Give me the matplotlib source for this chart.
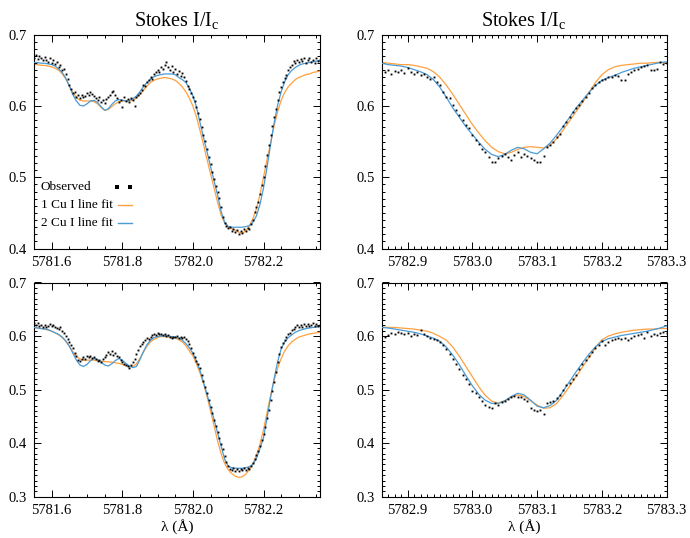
import numpy as np
import matplotlib
matplotlib.use("Agg")
import matplotlib.pyplot as plt
from matplotlib.ticker import MultipleLocator, FormatStrFormatter

plt.rcParams['font.family'] = ['Liberation Serif', 'DejaVu Serif']
plt.rcParams['mathtext.fontset'] = 'custom'
plt.rcParams['mathtext.rm'] = 'Liberation Serif'
plt.rcParams['mathtext.it'] = 'Liberation Serif:italic'

# ---------------- data ----------------
titles = ["Stokes I/I$_{\\rm c}$", "Stokes I/I$_{\\rm c}$"]
xlabel = "\u03bb (\u00c5)"
legend_labels = ["Observed", "1 Cu I line fit", "2 Cu I line fit"]

left_xlim = (5781.55, 5782.36)
right_xlim = (5782.86, 5783.30)
left_xticks = [5781.6, 5781.8, 5782.0, 5782.2]
right_xticks = [5782.9, 5783.0, 5783.1, 5783.2, 5783.3]

obs_step = 0.005
fit_step = 0.01
left_obs_start = 5781.55
left_fit_start = 5781.55
right_obs_start = 5782.865
right_fit_start = 5782.86

# top-left observed
tl_obs = [0.668, 0.672, 0.666, 0.670, 0.667, 0.664, 0.669, 0.665, 0.662, 0.667,
          0.661, 0.664, 0.659, 0.662, 0.655, 0.657, 0.650, 0.652, 0.645, 0.638,
          0.630, 0.624, 0.618, 0.620, 0.613, 0.615, 0.611, 0.616, 0.612, 0.614,
          0.618, 0.616, 0.619, 0.617, 0.614, 0.611, 0.608, 0.612, 0.606, 0.609,
          0.604, 0.610, 0.613, 0.616, 0.619, 0.621, 0.615, 0.611, 0.605, 0.609,
          0.598, 0.612, 0.607, 0.610, 0.606, 0.611, 0.608, 0.600, 0.612, 0.616,
          0.618, 0.623, 0.630, 0.628, 0.634, 0.637, 0.640, 0.638, 0.645, 0.648,
          0.651, 0.647, 0.655, 0.652, 0.658, 0.662, 0.654, 0.650, 0.656, 0.648,
          0.652, 0.645, 0.649, 0.642, 0.646, 0.640, 0.635, 0.628, 0.624, 0.618,
          0.612, 0.607, 0.598, 0.590, 0.582, 0.571, 0.560, 0.551, 0.540, 0.528,
          0.518, 0.508, 0.497, 0.488, 0.480, 0.471, 0.458, 0.444, 0.436, 0.432,
          0.429, 0.430, 0.425, 0.428, 0.423, 0.426, 0.421, 0.424, 0.422, 0.427,
          0.424, 0.429, 0.428, 0.434, 0.440, 0.452, 0.459, 0.466, 0.476, 0.489,
          0.500, 0.516, 0.531, 0.546, 0.560, 0.572, 0.585, 0.596, 0.608, 0.619,
          0.627, 0.633, 0.639, 0.644, 0.650, 0.654, 0.657, 0.663, 0.660, 0.665,
          0.662, 0.666, 0.663, 0.667, 0.660, 0.664, 0.668, 0.662, 0.665, 0.661,
          0.667, 0.663, 0.664]
tl_fit1 = [0.658, 0.658, 0.657, 0.657, 0.656, 0.655, 0.653, 0.650, 0.645, 0.638,
           0.628, 0.619, 0.612, 0.608, 0.607, 0.607, 0.607, 0.606, 0.603, 0.598,
           0.594, 0.595, 0.599, 0.603, 0.606, 0.607, 0.607, 0.607, 0.608, 0.611,
           0.616, 0.622, 0.628, 0.633, 0.636, 0.638, 0.639, 0.640, 0.639, 0.638,
           0.636, 0.632, 0.627, 0.620, 0.611, 0.600, 0.585, 0.566, 0.546, 0.525,
           0.505, 0.485, 0.465, 0.447, 0.436, 0.430, 0.428, 0.426, 0.423, 0.4215,
           0.425, 0.432, 0.442, 0.456, 0.476, 0.500, 0.525, 0.548, 0.572, 0.592,
           0.608, 0.619, 0.627, 0.632, 0.637, 0.640, 0.642, 0.644, 0.645, 0.647,
           0.648, 0.649]
tl_fit2 = [0.661, 0.661, 0.660, 0.660, 0.659, 0.658, 0.656, 0.652, 0.647, 0.639,
           0.628, 0.616, 0.607, 0.601, 0.600, 0.603, 0.607, 0.608, 0.605, 0.599,
           0.594, 0.596, 0.602, 0.607, 0.609, 0.608, 0.607, 0.608, 0.610, 0.614,
           0.620, 0.627, 0.633, 0.638, 0.641, 0.643, 0.644, 0.645, 0.645, 0.645,
           0.644, 0.640, 0.637, 0.633, 0.625, 0.614, 0.599, 0.577, 0.556, 0.536,
           0.515, 0.495, 0.475, 0.452, 0.437, 0.431, 0.430, 0.430, 0.430, 0.430,
           0.431, 0.432, 0.437, 0.446, 0.462, 0.485, 0.514, 0.546, 0.576, 0.601,
           0.620, 0.634, 0.644, 0.650, 0.654, 0.657, 0.659, 0.660, 0.661, 0.662,
           0.663, 0.664]

# bottom-left observed
bl_obs = [0.624, 0.621, 0.625, 0.619, 0.621, 0.617, 0.620, 0.616, 0.619, 0.622,
          0.618, 0.621, 0.617, 0.615, 0.613, 0.616, 0.610, 0.605, 0.600, 0.595,
          0.589, 0.583, 0.577, 0.569, 0.562, 0.556, 0.553, 0.557, 0.560, 0.558,
          0.562, 0.560, 0.563, 0.559, 0.561, 0.557, 0.554, 0.556, 0.552, 0.558,
          0.560, 0.565, 0.570, 0.567, 0.572, 0.565, 0.568, 0.562, 0.560, 0.556,
          0.551, 0.548, 0.546, 0.544, 0.541, 0.545, 0.551, 0.558, 0.566, 0.574,
          0.581, 0.586, 0.589, 0.593, 0.596, 0.594, 0.598, 0.601, 0.604, 0.602,
          0.605, 0.603, 0.604, 0.601, 0.603, 0.600, 0.602, 0.599, 0.597, 0.598,
          0.598, 0.600, 0.597, 0.599, 0.596, 0.598, 0.594, 0.591, 0.586, 0.578,
          0.568, 0.561, 0.553, 0.548, 0.541, 0.528, 0.516, 0.505, 0.494, 0.481,
          0.468, 0.456, 0.443, 0.431, 0.420, 0.410, 0.399, 0.388, 0.375, 0.365,
          0.357, 0.352, 0.349, 0.353, 0.348, 0.351, 0.347, 0.352, 0.349, 0.353,
          0.350, 0.354, 0.352, 0.357, 0.362, 0.370, 0.378, 0.386, 0.395, 0.405,
          0.417, 0.430, 0.446, 0.462, 0.480, 0.498, 0.515, 0.533, 0.551, 0.566,
          0.579, 0.587, 0.593, 0.598, 0.603, 0.606, 0.611, 0.614, 0.617, 0.620,
          0.616, 0.620, 0.617, 0.622, 0.619, 0.623, 0.618, 0.621, 0.624, 0.619,
          0.622, 0.618, 0.620]
bl_fit1 = [0.616, 0.615, 0.614, 0.613, 0.611, 0.609, 0.606, 0.602, 0.597, 0.590,
           0.581, 0.571, 0.562, 0.557, 0.555, 0.555, 0.555, 0.555, 0.554, 0.553,
           0.552, 0.552, 0.551, 0.550, 0.549, 0.547, 0.545, 0.543, 0.543, 0.548,
           0.558, 0.570, 0.581, 0.589, 0.594, 0.597, 0.599, 0.599, 0.598, 0.597,
           0.596, 0.593, 0.589, 0.582, 0.572, 0.563, 0.548, 0.531, 0.511, 0.487,
           0.460, 0.432, 0.404, 0.380, 0.362, 0.350, 0.343, 0.338, 0.336, 0.337,
           0.342, 0.351, 0.362, 0.377, 0.398, 0.425, 0.457, 0.489, 0.517, 0.540,
           0.558, 0.572, 0.582, 0.589, 0.594, 0.598, 0.600, 0.602, 0.604, 0.605,
           0.606, 0.607]
bl_fit2 = [0.616, 0.615, 0.614, 0.613, 0.612, 0.609, 0.606, 0.603, 0.598, 0.591,
           0.581, 0.568, 0.555, 0.546, 0.543, 0.547, 0.554, 0.558, 0.556, 0.551,
           0.546, 0.544, 0.548, 0.554, 0.558, 0.555, 0.549, 0.544, 0.541, 0.543,
           0.556, 0.571, 0.584, 0.592, 0.597, 0.599, 0.600, 0.600, 0.600, 0.599,
           0.598, 0.596, 0.592, 0.586, 0.578, 0.568, 0.553, 0.536, 0.514, 0.491,
           0.468, 0.444, 0.419, 0.394, 0.370, 0.357, 0.354, 0.353, 0.353, 0.353,
           0.354, 0.356, 0.360, 0.371, 0.390, 0.410, 0.447, 0.485, 0.520, 0.552,
           0.576, 0.589, 0.597, 0.602, 0.607, 0.610, 0.612, 0.614, 0.615, 0.616,
           0.617, 0.618]

# top-right observed
tr_obs = [0.648, 0.651, 0.645, 0.649, 0.647, 0.650, 0.646, 0.653, 0.648, 0.645,
          0.647, 0.643, 0.645, 0.641, 0.638, 0.640, 0.634, 0.629, 0.620, 0.613,
          0.611, 0.602, 0.594, 0.588, 0.580, 0.574, 0.569, 0.560, 0.553, 0.547,
          0.540, 0.535, 0.529, 0.522, 0.521, 0.527, 0.530, 0.533, 0.528, 0.524,
          0.531, 0.536, 0.529, 0.533, 0.530, 0.527, 0.524, 0.522, 0.521, 0.530,
          0.543, 0.545, 0.550, 0.556, 0.561, 0.572, 0.578, 0.585, 0.591, 0.597,
          0.601, 0.607, 0.612, 0.618, 0.625, 0.630, 0.634, 0.637, 0.638, 0.640,
          0.641, 0.643, 0.642, 0.637, 0.637, 0.645, 0.648, 0.650, 0.652, 0.654,
          0.656, 0.657, 0.651, 0.650, 0.652, 0.662, 0.659, 0.661]
tr_fit1 = [0.661, 0.660, 0.659, 0.658, 0.658, 0.657, 0.655, 0.653, 0.648, 0.640,
           0.629, 0.616, 0.602, 0.588, 0.574, 0.562, 0.551, 0.542, 0.536, 0.533,
           0.535, 0.539, 0.542, 0.543, 0.542, 0.541, 0.545, 0.554, 0.566, 0.579,
           0.592, 0.605, 0.619, 0.633, 0.644, 0.651, 0.655, 0.657, 0.658, 0.659,
           0.660, 0.660, 0.661, 0.661, 0.661]
tr_fit2 = [0.660, 0.658, 0.657, 0.656, 0.654, 0.651, 0.648, 0.644, 0.637, 0.626,
           0.612, 0.597, 0.584, 0.571, 0.560, 0.549, 0.539, 0.532, 0.529, 0.532,
           0.538, 0.542, 0.540, 0.535, 0.533, 0.540, 0.548, 0.559, 0.571, 0.584,
           0.597, 0.608, 0.619, 0.629, 0.636, 0.640, 0.643, 0.647, 0.650, 0.653,
           0.655, 0.657, 0.659, 0.661, 0.662]

# bottom-right observed
br_obs = [0.599, 0.602, 0.606, 0.604, 0.607, 0.605, 0.603, 0.605, 0.600, 0.603,
          0.601, 0.611, 0.604, 0.600, 0.597, 0.595, 0.592, 0.588, 0.583, 0.575,
          0.566, 0.557, 0.547, 0.538, 0.528, 0.520, 0.510, 0.498, 0.493, 0.486,
          0.479, 0.471, 0.467, 0.466, 0.474, 0.471, 0.476, 0.479, 0.482, 0.486,
          0.488, 0.487, 0.486, 0.483, 0.479, 0.465, 0.462, 0.460, 0.461, 0.455,
          0.474, 0.476, 0.478, 0.484, 0.490, 0.499, 0.508, 0.513, 0.520, 0.527,
          0.538, 0.548, 0.555, 0.563, 0.571, 0.578, 0.584, 0.590, 0.584, 0.589,
          0.592, 0.594, 0.596, 0.594, 0.596, 0.593, 0.597, 0.600, 0.602, 0.604,
          0.596, 0.607, 0.600, 0.604, 0.602, 0.605, 0.608, 0.606]
br_fit1 = [0.617, 0.616, 0.616, 0.615, 0.614, 0.613, 0.611, 0.609, 0.605, 0.599,
           0.592, 0.579, 0.562, 0.543, 0.524, 0.505, 0.489, 0.478, 0.475, 0.479,
           0.486, 0.490, 0.487, 0.479, 0.471, 0.465, 0.466, 0.474, 0.489, 0.506,
           0.524, 0.542, 0.560, 0.578, 0.593, 0.600, 0.604, 0.607, 0.609, 0.611,
           0.612, 0.613, 0.613, 0.614, 0.614]
br_fit2 = [0.616, 0.615, 0.613, 0.611, 0.609, 0.607, 0.604, 0.600, 0.596, 0.590,
           0.579, 0.564, 0.546, 0.526, 0.507, 0.491, 0.480, 0.474, 0.474, 0.479,
           0.487, 0.493, 0.490, 0.480, 0.469, 0.466, 0.470, 0.480, 0.497, 0.515,
           0.533, 0.550, 0.566, 0.580, 0.590, 0.595, 0.598, 0.601, 0.603, 0.605,
           0.607, 0.609, 0.612, 0.615, 0.619]

# ---------------- style ----------------
c_obs = 'black'
c_fit1 = '#FFA040'
c_fit2 = '#4A9BD6'

fig = plt.figure(figsize=(6.9, 5.38), dpi=100)
W, H = 690.0, 538.0

def rect(x0, x1, y0, y1):
    return [x0 / W, 1 - y1 / H, (x1 - x0) / W, (y1 - y0) / H]

ax_tl = fig.add_axes(rect(34, 320, 34.7, 248.6))
ax_tr = fig.add_axes(rect(381.7, 666.7, 34.7, 248.6))
ax_bl = fig.add_axes(rect(34, 320, 282.5, 496.6))
ax_br = fig.add_axes(rect(381.7, 666.7, 282.5, 496.6))

panels = [
    (ax_tl, left_obs_start, tl_obs, left_fit_start, tl_fit1, tl_fit2, left_xlim, left_xticks, (0.4, 0.7), 0.05),
    (ax_tr, right_obs_start, tr_obs, right_fit_start, tr_fit1, tr_fit2, right_xlim, right_xticks, (0.4, 0.7), 0.01),
    (ax_bl, left_obs_start, bl_obs, left_fit_start, bl_fit1, bl_fit2, left_xlim, left_xticks, (0.3, 0.7), 0.05),
    (ax_br, right_obs_start, br_obs, right_fit_start, br_fit1, br_fit2, right_xlim, right_xticks, (0.3, 0.7), 0.01),
]

for ax, os_, obs, fs_, f1, f2, xlim, xt, ylim, xminor in panels:
    xo = os_ + obs_step * np.arange(len(obs))
    xf = fs_ + fit_step * np.arange(len(f1))
    ax.plot(xf, f1, color=c_fit1, lw=0.9, zorder=2)
    ax.plot(xf, f2, color=c_fit2, lw=0.9, zorder=3)
    ax.plot(xo, obs, ls='none', marker='s', ms=1.35, mew=0, color=c_obs, zorder=4)
    ax.set_xlim(*xlim)
    ax.set_ylim(*ylim)
    ax.set_xticks(xt)
    ax.xaxis.set_major_formatter(FormatStrFormatter('%.1f'))
    ax.xaxis.set_minor_locator(MultipleLocator(xminor))
    ax.yaxis.set_major_locator(MultipleLocator(0.1))
    ax.yaxis.set_major_formatter(FormatStrFormatter('%.1f'))
    ax.yaxis.set_minor_locator(MultipleLocator(0.01))
    ax.tick_params(which='both', direction='in', top=True, right=True,
                   labelsize=10.5, width=0.7, pad=5)
    ax.tick_params(which='major', length=5)
    ax.tick_params(which='minor', length=2.5)
    for s in ax.spines.values():
        s.set_linewidth(0.8)

ax_tl.set_title(titles[0], fontsize=14.5, pad=6)
ax_tr.set_title(titles[1], fontsize=14.5, pad=6)
ax_bl.set_xlabel(xlabel, fontsize=11, labelpad=2)
ax_br.set_xlabel(xlabel, fontsize=11, labelpad=2)

# legend drawn in axes coordinates: labels left-aligned, keys on the right
leg_y = [0.288, 0.204, 0.120]
for yy, lab in zip(leg_y, legend_labels):
    ax_tl.text(0.024, yy, lab, transform=ax_tl.transAxes,
               fontsize=9.5, va='center', ha='left')
ax_tl.plot([0.290, 0.335], [leg_y[0], leg_y[0]], transform=ax_tl.transAxes,
           ls='none', marker='s', ms=2.4, mew=0, color=c_obs)
ax_tl.plot([0.292, 0.342], [leg_y[1], leg_y[1]], transform=ax_tl.transAxes,
           color=c_fit1, lw=1.0)
ax_tl.plot([0.292, 0.342], [leg_y[2], leg_y[2]], transform=ax_tl.transAxes,
           color=c_fit2, lw=1.0)

fig.savefig("out.png", dpi=100)
